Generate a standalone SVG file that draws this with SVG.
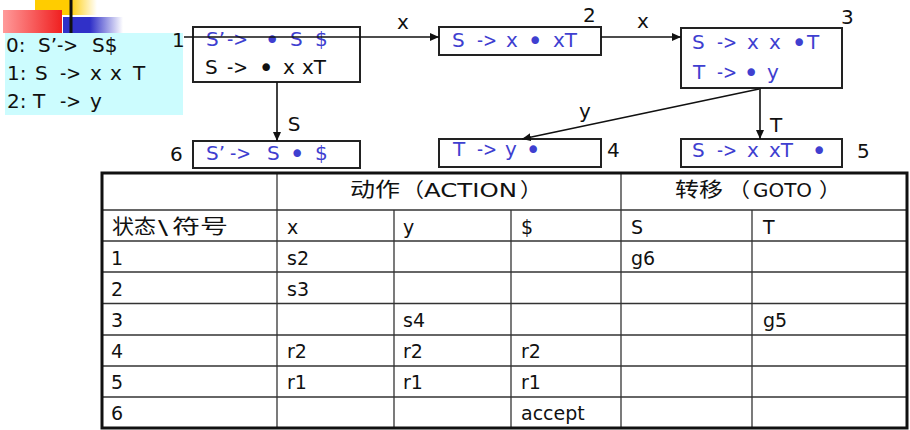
<svg xmlns="http://www.w3.org/2000/svg" width="910" height="430" viewBox="0 0 910 430">
<defs>
<linearGradient id="gYellow" x1="0" y1="0" x2="1" y2="0"><stop offset="0" stop-color="#ffcc00"/><stop offset="0.55" stop-color="#ffcc00"/><stop offset="1" stop-color="#ffcc00" stop-opacity="0"/></linearGradient>
<linearGradient id="gRed" x1="0" y1="0" x2="1" y2="0"><stop offset="0" stop-color="#ff9a9a"/><stop offset="1" stop-color="#f02020"/></linearGradient>
<linearGradient id="gBlue" x1="0" y1="0" x2="1" y2="0"><stop offset="0" stop-color="#3030c8"/><stop offset="0.45" stop-color="#3030c8"/><stop offset="1" stop-color="#3030c8" stop-opacity="0"/></linearGradient>
<marker id="arr" markerUnits="userSpaceOnUse" markerWidth="10" markerHeight="8" refX="9" refY="4" orient="auto"><path d="M0,0 L9,4 L0,8 Z" fill="#111"/></marker>
</defs>
<style>
.box{fill:#fff;stroke:#222;stroke-width:2}
.t{font-family:"DejaVu Sans","Liberation Sans",sans-serif;font-size:20px}
.blue{fill:#3f3fd0}
.blk{fill:#111}
.dot{font-family:"DejaVu Sans","Liberation Sans",sans-serif;font-size:26px}
.edge{stroke:#111;stroke-width:1.6;fill:none;marker-end:url(#arr)}
.cell{font-family:"DejaVu Sans","Noto Sans CJK SC",sans-serif;font-size:19px;fill:#111}
.cjk{font-family:"Noto Sans CJK SC","DejaVu Sans",sans-serif;font-size:20px;fill:#111}
.lat{font-family:"DejaVu Sans","Noto Sans CJK SC",sans-serif;font-size:19px}
.thin{stroke:#333;stroke-width:1.3}
.thick{stroke:#111;stroke-width:3;fill:none}
</style>
<rect width="910" height="430" fill="#fff"/>
<g id="decoration">
<rect x="35" y="0" width="62" height="15" fill="url(#gYellow)"/>
<rect x="5" y="33" width="178" height="82" fill="#ccfcfe"/>
<rect x="3" y="10" width="59" height="23" fill="url(#gRed)"/>
<rect x="63" y="17" width="60" height="16" fill="url(#gBlue)"/>
<line x1="71" y1="0" x2="71" y2="33" stroke="#111" stroke-width="3"/>
</g>
<g id="legend" class="t blk">
<text y="52"><tspan x="6">0:</tspan><tspan x="38">S’</tspan><tspan x="57" textLength="21" lengthAdjust="spacingAndGlyphs">-&gt;</tspan><tspan x="92">S$</tspan></text>
<text y="80"><tspan x="7">1:</tspan><tspan x="35">S</tspan><tspan x="60" textLength="21" lengthAdjust="spacingAndGlyphs">-&gt;</tspan><tspan x="90">x</tspan><tspan x="110">x</tspan><tspan x="133">T</tspan></text>
<text y="108"><tspan x="7">2:</tspan><tspan x="33">T</tspan><tspan x="60" textLength="21" lengthAdjust="spacingAndGlyphs">-&gt;</tspan><tspan x="90">y</tspan></text>
</g>
<g id="state1">
<rect class="box" x="193" y="27" width="167" height="55"/>
<text class="t blue" y="46"><tspan x="206">S’</tspan><tspan x="227" textLength="21" lengthAdjust="spacingAndGlyphs">-&gt;</tspan><tspan x="290">S</tspan><tspan x="315">$</tspan></text>
<text class="dot blue" x="264.5" y="48.5">•</text>
<text class="t blk" y="74"><tspan x="205">S</tspan><tspan x="227" textLength="21" lengthAdjust="spacingAndGlyphs">-&gt;</tspan><tspan x="283">x</tspan><tspan x="302">xT</tspan></text>
<text class="dot blk" x="258.5" y="76.5">•</text>
<text class="t blk" x="172" y="47">1</text>
</g>
<g id="state2">
<rect class="box" x="439" y="27" width="162" height="28"/>
<text class="t blue" y="47"><tspan x="452">S</tspan><tspan x="477" textLength="20" lengthAdjust="spacingAndGlyphs">-&gt;</tspan><tspan x="506">x</tspan><tspan x="553">xT</tspan></text>
<text class="dot blue" x="527.5" y="49.5">•</text>
<text class="t blk" x="583" y="22">2</text>
</g>
<g id="state3">
<rect class="box" x="681" y="28" width="161" height="60"/>
<text class="t blue" y="49"><tspan x="692">S</tspan><tspan x="717" textLength="20" lengthAdjust="spacingAndGlyphs">-&gt;</tspan><tspan x="747">x</tspan><tspan x="769">x</tspan><tspan x="807">T</tspan></text>
<text class="dot blue" x="791.5" y="51.5">•</text>
<text class="t blue" y="79"><tspan x="693">T</tspan><tspan x="717" textLength="20" lengthAdjust="spacingAndGlyphs">-&gt;</tspan><tspan x="767">y</tspan></text>
<text class="dot blue" x="743.5" y="81.5">•</text>
<text class="t blk" x="841" y="24">3</text>
</g>
<g id="state4">
<rect class="box" x="439" y="139" width="162" height="28"/>
<text class="t blue" y="156"><tspan x="453">T</tspan><tspan x="477" textLength="20" lengthAdjust="spacingAndGlyphs">-&gt;</tspan><tspan x="505">y</tspan></text>
<text class="dot blue" x="525.5" y="158.5">•</text>
<text class="t blk" x="607" y="157">4</text>
</g>
<g id="state5">
<rect class="box" x="681" y="139" width="161" height="28"/>
<text class="t blue" y="157"><tspan x="692">S</tspan><tspan x="717" textLength="20" lengthAdjust="spacingAndGlyphs">-&gt;</tspan><tspan x="747">x</tspan><tspan x="769">xT</tspan></text>
<text class="dot blue" x="811.5" y="159.5">•</text>
<text class="t blk" x="857" y="158">5</text>
</g>
<g id="state6">
<rect class="box" x="193" y="141" width="167" height="27"/>
<text class="t blue" y="160"><tspan x="206">S’</tspan><tspan x="230" textLength="21" lengthAdjust="spacingAndGlyphs">-&gt;</tspan><tspan x="267">S</tspan><tspan x="315">$</tspan></text>
<text class="dot blue" x="289.5" y="162.5">•</text>
<text class="t blk" x="170" y="161">6</text>
</g>
<g id="connectors">
<line class="edge" x1="184" y1="37" x2="439" y2="37"/>
<line class="edge" x1="601" y1="37" x2="681" y2="37"/>
<line class="edge" x1="277" y1="82" x2="277" y2="141"/>
<line class="edge" x1="760" y1="88" x2="760" y2="139"/>
<line class="edge" x1="759" y1="89" x2="522" y2="139"/>
<text class="t blk" x="403" y="29" text-anchor="middle">x</text>
<text class="t blk" x="643" y="28" text-anchor="middle">x</text>
<text class="t blk" x="294" y="131" text-anchor="middle">S</text>
<text class="t blk" x="776" y="132" text-anchor="middle">T</text>
<text class="t blk" x="585" y="118" text-anchor="middle">y</text>
</g>
<g id="table">
<g class="thin">
<line x1="102" y1="210" x2="907" y2="210"/>
<line x1="102" y1="241" x2="907" y2="241"/>
<line x1="102" y1="272" x2="907" y2="272"/>
<line x1="102" y1="303.5" x2="907" y2="303.5"/>
<line x1="102" y1="335" x2="907" y2="335"/>
<line x1="102" y1="366" x2="907" y2="366"/>
<line x1="102" y1="397" x2="907" y2="397"/>
<line x1="277" y1="173" x2="277" y2="428"/>
<line x1="621" y1="173" x2="621" y2="428"/>
<line x1="394" y1="210" x2="394" y2="428"/>
<line x1="511" y1="210" x2="511" y2="428"/>
<line x1="752" y1="210" x2="752" y2="428"/>
</g>
<rect class="thick" x="102" y="173" width="805" height="255"/>
<text class="cjk" y="197"><tspan x="350" textLength="50" lengthAdjust="spacingAndGlyphs">动作</tspan><tspan x="402" textLength="22" lengthAdjust="spacingAndGlyphs">（</tspan><tspan class="lat" x="424" textLength="93" lengthAdjust="spacingAndGlyphs">ACTION</tspan><tspan x="520" textLength="22" lengthAdjust="spacingAndGlyphs">）</tspan></text>
<text class="cjk" y="197"><tspan x="675" textLength="48" lengthAdjust="spacingAndGlyphs">转移</tspan><tspan x="728" textLength="22" lengthAdjust="spacingAndGlyphs">（</tspan><tspan class="lat" x="753" textLength="59" lengthAdjust="spacingAndGlyphs">GOTO</tspan><tspan x="819" textLength="22" lengthAdjust="spacingAndGlyphs">）</tspan></text>
<text class="cjk" y="234"><tspan x="112" textLength="44" lengthAdjust="spacingAndGlyphs">状态</tspan><tspan class="lat" x="158" textLength="10" lengthAdjust="spacingAndGlyphs">\</tspan><tspan x="172" textLength="56" lengthAdjust="spacingAndGlyphs">符号</tspan></text>
<g class="cell">
<text x="287" y="234">x</text><text x="403" y="234">y</text><text x="521" y="234">$</text><text x="631" y="234">S</text><text x="763" y="234">T</text>
<text x="111" y="265">1</text><text x="287" y="265">s2</text><text x="631" y="265">g6</text>
<text x="111" y="296">2</text><text x="287" y="296">s3</text>
<text x="111" y="327">3</text><text x="403" y="327">s4</text><text x="763" y="327">g5</text>
<text x="111" y="358">4</text><text x="287" y="358">r2</text><text x="403" y="358">r2</text><text x="521" y="358">r2</text>
<text x="111" y="389">5</text><text x="287" y="389">r1</text><text x="403" y="389">r1</text><text x="521" y="389">r1</text>
<text x="111" y="420">6</text><text x="521" y="420">accept</text>
</g>
</g>
</svg>
